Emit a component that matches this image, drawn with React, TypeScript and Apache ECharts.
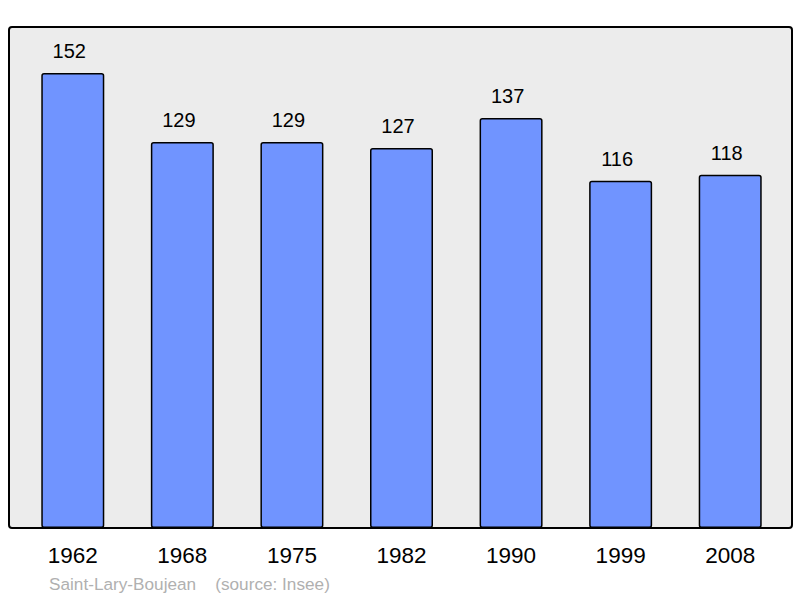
import React, { useEffect, useRef } from "react";
import * as echarts from "echarts";

const years = ["1962", "1968", "1975", "1982", "1990", "1999", "2008"];
const population = [152, 129, 129, 127, 137, 116, 118];
const commune = "Saint-Lary-Boujean";
const sourceText = "(source: Insee)";

export default function App() {
  const ref = useRef<HTMLDivElement>(null);
  useEffect(() => {
    if (!ref.current) return;
    const chart = echarts.init(ref.current, undefined, { renderer: "svg" });
    chart.setOption({
      animation: false,
      backgroundColor: "#ffffff",
      textStyle: { fontFamily: "Liberation Sans, Arial, sans-serif" },
      graphic: [
        {
          type: "rect",
          z: -10,
          shape: { x: 9, y: 27, width: 783, height: 501, r: 3 },
          style: { fill: "#ececec", stroke: "#000000", lineWidth: 2 },
          silent: true,
        },
        {
          type: "text",
          left: 49,
          top: 575,
          style: {
            text: commune + "    " + sourceText,
            fill: "#b0b0b0",
            font: "17.2px Liberation Sans, Arial, sans-serif",
          },
        },
      ],
      grid: { left: 18, right: 15, top: 27, bottom: 70, containLabel: false },
      xAxis: {
        type: "category",
        data: years,
        axisLine: { show: false },
        axisTick: { show: false },
        axisLabel: {
          color: "#000000",
          fontSize: 22.5,
          margin: 16,
          fontFamily: "Liberation Sans, Arial, sans-serif",
        },
      },
      yAxis: {
        type: "value",
        min: 0,
        max: 167.4,
        show: false,
        splitLine: { show: false },
      },
      series: [
        {
          type: "bar",
          data: population,
          barWidth: 63,
          itemStyle: {
            color: "#7094ff",
            borderColor: "#000000",
            borderWidth: 1.5,
            borderRadius: 2,
          },
          label: {
            show: true,
            position: "top",
            distance: 12,
            offset: [-3.5, 0],
            color: "#000000",
            fontSize: 20,
            fontFamily: "Liberation Sans, Arial, sans-serif",
          },
        },
      ],
    });
    return () => chart.dispose();
  }, []);
  return <div ref={ref} style={{ width: 800, height: 598, position: "absolute", left: 0, top: 0 }} />;
}
